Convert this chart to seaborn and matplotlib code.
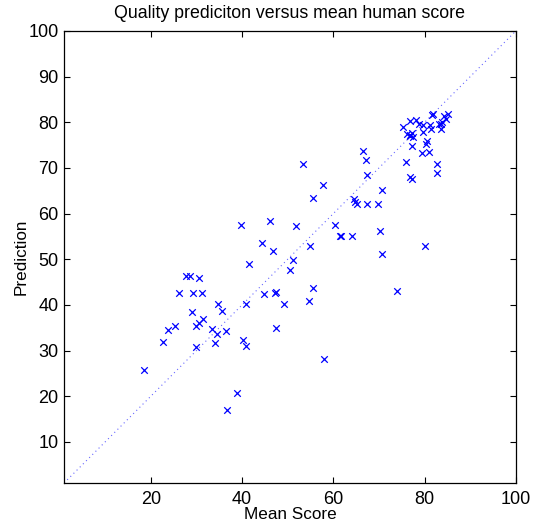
import numpy as np
import pandas as pd
import seaborn as sns
import matplotlib.pyplot as plt

# mean human score vs predicted quality
mean_score = [18.5, 22.7, 23.8, 25.3, 26.2, 27.7, 28.6, 30.5, 29.3, 31.2,
              29.0, 30.0, 30.6, 31.4, 29.9, 33.5, 34.5, 34.1, 36.4, 34.7,
              35.5, 36.6, 39.0, 40.1, 40.8, 40.9, 41.5, 39.8, 46.1, 44.4,
              46.7, 44.8, 47.3, 47.5, 47.4, 49.3, 50.4, 51.2, 51.8, 53.3,
              54.7, 55.6, 54.8, 55.5, 57.7, 57.9, 60.3, 61.5, 61.6, 64.0,
              64.5, 64.8, 65.2, 66.5, 67.1, 67.4, 67.4, 69.8, 70.6, 70.3,
              70.6, 73.9, 75.9, 76.8, 77.3, 80.1, 82.7, 82.7, 77.2, 80.6,
              80.3, 80.9, 79.5, 75.3, 76.8, 78.2, 78.8, 79.7, 81.2, 81.4,
              79.7, 76.1, 76.8, 77.3, 77.4, 76.9, 81.9, 81.7, 84.2, 85.2,
              83.9, 84.6, 83.6, 83.1, 83.6]
prediction = [25.7, 31.9, 34.5, 35.4, 42.7, 46.4, 46.4, 45.9, 42.6, 42.6,
              38.5, 35.4, 36.1, 36.9, 30.8, 34.8, 33.6, 31.7, 34.2, 40.2,
              38.6, 17.0, 20.8, 32.4, 31.0, 40.1, 48.9, 57.6, 58.4, 53.5,
              51.9, 42.4, 42.7, 42.9, 35.0, 40.1, 47.6, 49.9, 57.3, 70.9,
              40.9, 43.8, 52.9, 63.4, 66.3, 28.1, 57.6, 55.2, 55.0, 55.2,
              63.1, 62.6, 62.2, 73.7, 71.7, 68.4, 62.2, 62.0, 65.2, 56.3,
              51.2, 43.1, 71.3, 68.1, 67.6, 53.0, 70.9, 69.0, 74.9, 76.0,
              75.2, 73.6, 73.2, 79.0, 80.3, 80.5, 79.7, 79.4, 79.3, 78.5,
              77.9, 77.5, 77.3, 77.6, 76.8, 76.9, 81.8, 81.5, 81.4, 81.9,
              80.1, 80.7, 79.7, 79.6, 78.5]
diag = [1, 100]

df = pd.DataFrame({"Mean Score": mean_score, "Prediction": prediction})

sns.set_style("ticks")
plt.rcParams['font.family'] = ['Liberation Sans', 'DejaVu Sans']
plt.rcParams['xtick.direction'] = 'in'
plt.rcParams['ytick.direction'] = 'in'
for k in ['text.color', 'axes.labelcolor', 'xtick.color', 'ytick.color', 'axes.edgecolor']:
    plt.rcParams[k] = 'black'

fig = plt.figure(figsize=(5.34, 5.25), dpi=100)
ax = fig.add_axes([0.12, 0.08, 0.846, 0.861])

ax.plot(diag, diag, color='blue', linestyle=(0, (1, 3)), linewidth=0.8, alpha=0.6)
sns.scatterplot(data=df, x="Mean Score", y="Prediction", marker='x', color='blue',
                s=22, linewidth=0.9, ax=ax)

ax.set_xlim(1, 100)
ax.set_ylim(1, 100)
ax.set_xticks([20, 40, 60, 80, 100])
ax.set_yticks(np.arange(10, 101, 10))
ax.tick_params(top=True, right=True, labelsize=13, length=4, width=0.8)
ax.tick_params(axis='x', pad=5.5)
ax.tick_params(axis='y', pad=4)
for sp in ax.spines.values():
    sp.set_linewidth(0.9)
ax.set_xlabel('Mean Score', fontsize=12.3, labelpad=-0.5)
ax.set_ylabel('Prediction', fontsize=12.3, labelpad=0)
ax.set_title('Quality prediciton versus mean human score', fontsize=12.8, pad=9)

plt.savefig('out.png', dpi=100)
